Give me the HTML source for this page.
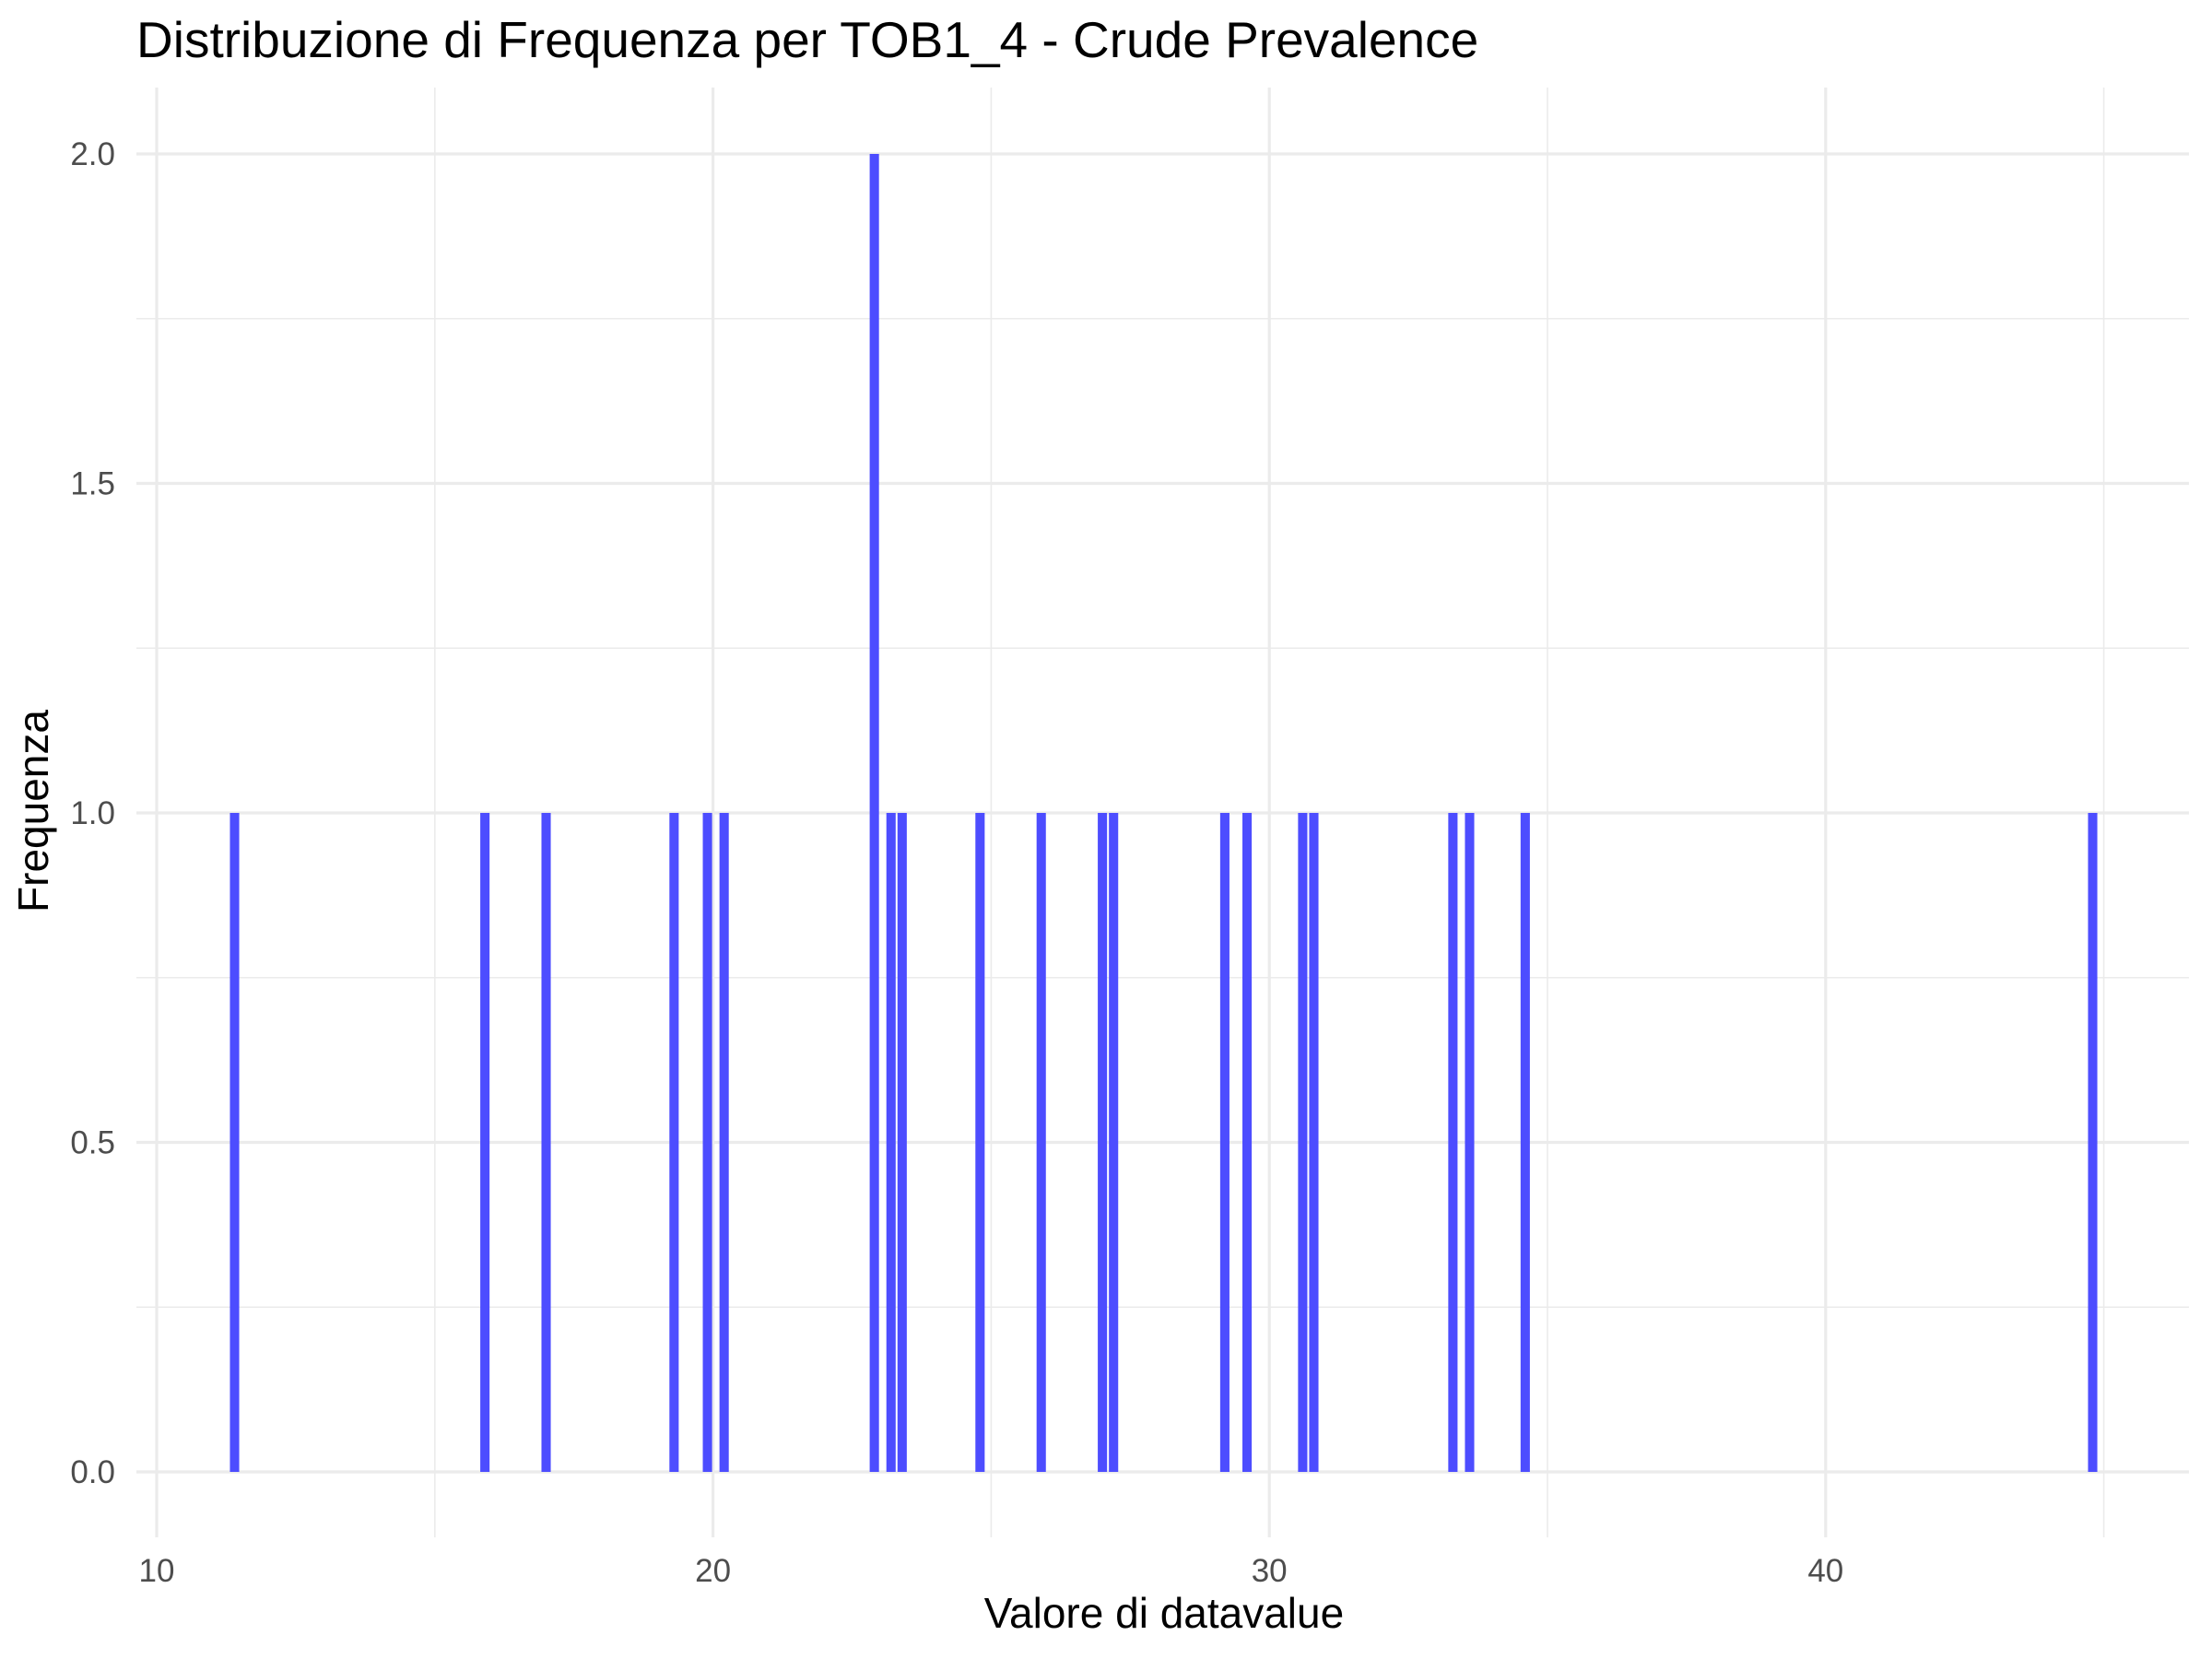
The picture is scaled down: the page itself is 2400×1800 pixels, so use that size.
<!DOCTYPE html>
<html><head><meta charset="utf-8"><style>
html,body{margin:0;padding:0;background:#fff;}
svg{display:block;font-family:"Liberation Sans",Arial,sans-serif;}
</style></head><body>
<svg id="chart" width="2400" height="1800" viewBox="0 0 2400 1800">
<rect x="0" y="0" width="2400" height="1800" fill="#fff"/>
<g id="grid"></g>
<g id="bars"></g>
<g id="ticks"></g>
<text x="148" y="62" font-size="55" fill="#000">Distribuzione di Frequenza per TOB1_4 - Crude Prevalence</text>
<text x="1263" y="1766" font-size="46" fill="#000" text-anchor="middle">Valore di datavalue</text>
<text transform="translate(52,880) rotate(-90)" font-size="46" fill="#000" text-anchor="middle">Frequenza</text>
</svg>
<script>
const binCenters = [11.4, 15.9, 17.0, 19.3, 19.9, 20.2, 22.9, 23.2, 23.4, 24.8, 25.9, 27.0, 27.2, 29.2, 29.6, 30.6, 30.8, 33.3, 33.6, 34.6, 44.8];
const binCounts = [1, 1, 1, 1, 1, 1, 2, 1, 1, 1, 1, 1, 1, 1, 1, 1, 1, 1, 1, 1, 1];
const binWidth = 0.167;
const xTicks = [10, 20, 30, 40];
const xMinor = [15, 25, 35, 45];
const yTicks = [0, 0.5, 1.0, 1.5, 2.0];
const yMinor = [0.25, 0.75, 1.25, 1.75];
const yTickLabels = ["0.0", "0.5", "1.0", "1.5", "2.0"];

const NS = "http://www.w3.org/2000/svg";
const PL = 148, PR = 2375, PT = 95, PB = 1668;
function xs(v){ return 170 + (v - 10) * 60.36; }
function ys(v){ return 1597 - v * 715; }
function mk(tag, attrs, parent){
  const e = document.createElementNS(NS, tag);
  for (const k in attrs) e.setAttribute(k, attrs[k]);
  parent.appendChild(e);
  return e;
}
const grid = document.getElementById('grid');
const bars = document.getElementById('bars');
const ticks = document.getElementById('ticks');

yMinor.forEach(v => {
  const l = mk('line', {x1: PL, x2: PR, y1: ys(v), y2: ys(v), stroke: '#ebebeb', 'stroke-width': 1.6}, grid);
  
  
});
xMinor.forEach(v => {
  const l = mk('line', {x1: xs(v), x2: xs(v), y1: PT, y2: PB, stroke: '#ebebeb', 'stroke-width': 1.6}, grid);
  
  
});
yTicks.forEach((v, i) => {
  const l = mk('line', {x1: PL, x2: PR, y1: ys(v), y2: ys(v), stroke: '#ebebeb', 'stroke-width': 3.2}, grid);
  
  
  const t = mk('text', {x: 125, y: ys(v) + 12, 'font-size': 35, fill: '#4d4d4d', 'text-anchor': 'end'}, ticks);
  t.textContent = yTickLabels[i];
  
  
});
xTicks.forEach(v => {
  const l = mk('line', {x1: xs(v), x2: xs(v), y1: PT, y2: PB, stroke: '#ebebeb', 'stroke-width': 3.2}, grid);
  
  
  const t = mk('text', {x: xs(v), y: 1716, 'font-size': 35, fill: '#4d4d4d', 'text-anchor': 'middle'}, ticks);
  t.textContent = String(v);
  
  
});
binCenters.forEach((c, i) => {
  const x0 = xs(c - binWidth / 2), x1 = xs(c + binWidth / 2);
  const r = mk('rect', {x: x0, y: ys(binCounts[i]), width: x1 - x0, height: ys(0) - ys(binCounts[i]), fill: '#4d4dff'}, bars);
  
  
});
</script>
</body></html>
